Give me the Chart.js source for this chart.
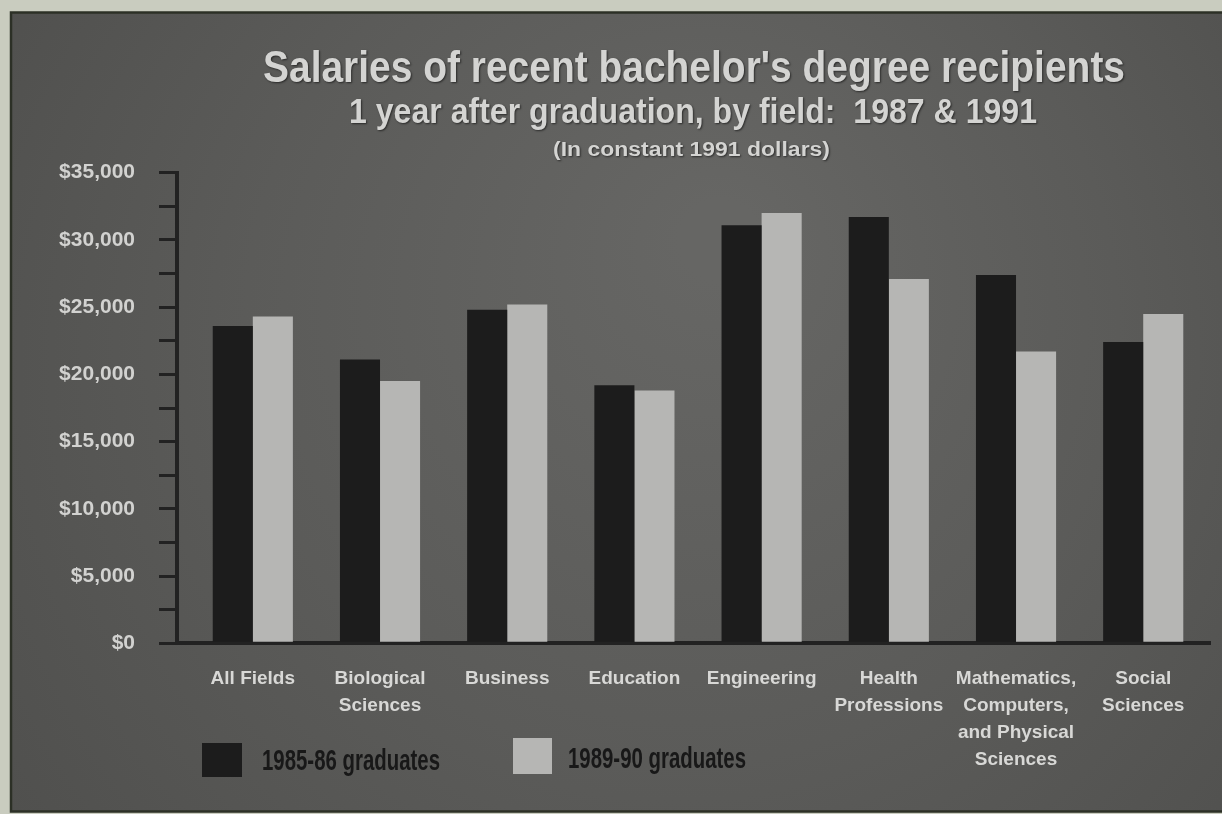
<!DOCTYPE html>
<html>
<head>
<meta charset="utf-8">
<title>Salaries of recent bachelor's degree recipients</title>
<script src="https://cdn.jsdelivr.net/npm/chart.js@4.4.1/dist/chart.umd.min.js"></script>
<style>
  html, body { margin: 0; padding: 0; background: #c9ccbf; overflow: hidden; }
  canvas { display: block; }
</style>
</head>
<body>
<canvas id="salaryChart" width="1222" height="814"></canvas>
<script>
// ---- data ----
const titleLines = [
  "Salaries of recent bachelor's degree recipients",
  "1 year after graduation, by field:  1987 & 1991",
  "(In constant 1991 dollars)"
];
const fields = [
  ['All Fields'],
  ['Biological', 'Sciences'],
  ['Business'],
  ['Education'],
  ['Engineering'],
  ['Health', 'Professions'],
  ['Mathematics,', 'Computers,', 'and Physical', 'Sciences'],
  ['Social', 'Sciences']
];
const seriesNames = ['1985-86 graduates', '1989-90 graduates'];
const salaries1985_86 = [23600, 21100, 24800, 19200, 31100, 31700, 27400, 22400];
const salaries1989_90 = [24300, 19500, 25200, 18800, 32000, 27100, 21700, 24500];
const yMin = 0;
const yMax = 35000;
const yMinorStep = 2500;
const yLabelStep = 5000;

// ---- styling ----
const FONT = '"Liberation Sans", Arial, sans-serif';
const INK = '#222222';
const PALE = '#d4d4d2';

// draws a line of text squeezed horizontally into [left, right]
function fittedText(ctx, text, left, right, baseline, font, color, shadow) {
  ctx.save();
  ctx.font = font;
  ctx.fillStyle = color;
  ctx.textAlign = 'left';
  ctx.textBaseline = 'alphabetic';
  const w = ctx.measureText(text).width;
  ctx.translate(left, baseline);
  ctx.scale((right - left) / w, 1);
  if (shadow) {
    ctx.shadowColor = 'rgba(0,0,0,0.55)';
    ctx.shadowBlur = 2;
    ctx.shadowOffsetX = 1;
    ctx.shadowOffsetY = 1;
  }
  ctx.fillText(text, 0, 0);
  ctx.restore();
}

// stone-grey panel behind the whole chart
const panelPlugin = {
  id: 'panel',
  beforeDraw(chart) {
    const ctx = chart.ctx;
    const W = chart.width, H = chart.height;
    ctx.save();
    ctx.fillStyle = '#c9ccbf';
    ctx.fillRect(0, 0, W, H);
    const g = ctx.createRadialGradient(720, 240, 40, 650, 400, 760);
    g.addColorStop(0, '#666664');
    g.addColorStop(0.55, '#5b5b59');
    g.addColorStop(1, '#50504e');
    ctx.fillStyle = g;
    ctx.fillRect(10, 12, W - 10, H - 14);
    ctx.strokeStyle = '#2c3026';
    ctx.lineWidth = 2.5;
    ctx.beginPath();
    ctx.moveTo(W, 12.5);
    ctx.lineTo(11, 12.5);
    ctx.lineTo(11, H - 2.5);
    ctx.lineTo(W, H - 2.5);
    ctx.stroke();
    ctx.restore();
  }
};

// three centred heading lines
const headingPlugin = {
  id: 'heading',
  afterDraw(chart) {
    const ctx = chart.ctx;
    fittedText(ctx, titleLines[0], 263, 1125, 82, 'bold 45px ' + FONT, PALE, true);
    fittedText(ctx, titleLines[1], 349, 1037, 123, 'bold 35px ' + FONT, PALE, true);
    fittedText(ctx, titleLines[2], 553, 830, 156, 'bold 20px ' + FONT, PALE, true);
  }
};

// series key under the axis labels
const keyPlugin = {
  id: 'seriesKey',
  afterDraw(chart) {
    const ctx = chart.ctx;
    const spots = [
      { bx: 202, by: 743, bw: 40, bh: 34, tl: 262, tr: 440, base: 770 },
      { bx: 513, by: 738, bw: 39, bh: 36, tl: 568, tr: 746, base: 768 }
    ];
    chart.data.datasets.forEach((ds, i) => {
      const s = spots[i];
      ctx.save();
      ctx.fillStyle = ds.backgroundColor;
      ctx.fillRect(s.bx, s.by, s.bw, s.bh);
      ctx.restore();
      fittedText(ctx, ds.label, s.tl, s.tr, s.base, 'bold 30px ' + FONT, '#181818', false);
    });
  }
};

const toPoints = arr => arr.map((v, i) => ({ x: i, y: v }));

new Chart(document.getElementById('salaryChart'), {
  type: 'bar',
  data: {
    datasets: [
      {
        label: seriesNames[0],
        data: toPoints(salaries1985_86),
        backgroundColor: '#1c1c1c',
        borderWidth: 0,
        categoryPercentage: 0.63,
        barPercentage: 1
      },
      {
        label: seriesNames[1],
        data: toPoints(salaries1989_90),
        backgroundColor: '#b6b6b4',
        borderWidth: 0,
        categoryPercentage: 0.63,
        barPercentage: 1
      }
    ]
  },
  options: {
    responsive: false,
    animation: false,
    devicePixelRatio: 1,
    layout: { padding: { top: 172.7, right: 12, bottom: 0, left: 0 } },
    plugins: {
      legend: { display: false },
      title: { display: false },
      tooltip: { enabled: false }
    },
    scales: {
      x: {
        type: 'linear',
        min: -0.596,
        max: 7.525,
        offset: false,
        grid: { display: true, drawOnChartArea: false, drawTicks: false },
        border: { display: true, color: INK, width: 4 },
        ticks: {
          stepSize: 1,
          includeBounds: false,
          autoSkip: false,
          maxRotation: 0,
          minRotation: 0,
          padding: 22,
          color: '#d8d8d6',
          font: { family: FONT, size: 19, weight: 'bold', lineHeight: 1.42 },
          callback: v => (Number.isInteger(v) && fields[v]) ? fields[v] : ''
        },
        afterFit: s => { s.height = 814 - 643.3; }
      },
      y: {
        min: yMin,
        max: yMax,
        grid: {
          display: true,
          drawOnChartArea: false,
          drawTicks: true,
          tickLength: 18,
          tickWidth: 3,
          tickColor: INK,
          color: INK,
          lineWidth: 3
        },
        border: { display: true, color: INK, width: 4 },
        ticks: {
          stepSize: yMinorStep,
          autoSkip: false,
          padding: 24,
          color: '#d2d2d0',
          font: { family: FONT, size: 21, weight: 'bold' },
          callback: v => (v % yLabelStep === 0) ? '$' + v.toLocaleString('en-US') : ''
        },
        afterFit: s => { s.width = 177; }
      }
    }
  },
  plugins: [panelPlugin, headingPlugin, keyPlugin]
});
</script>
</body>
</html>
